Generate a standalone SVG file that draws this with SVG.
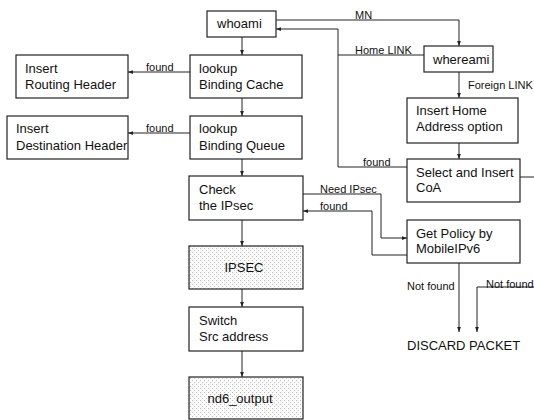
<svg xmlns="http://www.w3.org/2000/svg" width="534" height="420" viewBox="0 0 534 420">
<defs>
<marker id="ah" viewBox="0 0 8 8" refX="8" refY="4" markerWidth="5" markerHeight="5" orient="auto" markerUnits="userSpaceOnUse">
<path d="M0,1 L8,4 L0,7 z" fill="#222"/>
</marker>
<pattern id="dots" width="4" height="4" patternUnits="userSpaceOnUse">
<rect width="4" height="4" fill="#fbfbfb"/>
<rect x="0" y="0" width="1" height="1" fill="#b8b8b8"/>
<rect x="2" y="2" width="1" height="1" fill="#c8c8c8"/>
</pattern>
</defs>
<style>
.box{fill:#fff;stroke:#222;stroke-width:1.2}
.dot{fill:url(#dots);stroke:#222;stroke-width:1.2}
.t{font-family:"Liberation Sans",Arial,sans-serif;font-size:13px;fill:#111}
.l{font-family:"Liberation Sans",Arial,sans-serif;font-size:11px;fill:#111}
.c{fill:none;stroke:#222;stroke-width:1}
</style>
<rect width="534" height="420" fill="#fff"/>
<g id="connectors">
<path class="c" d="M242,37 V55" marker-end="url(#ah)"/>
<path class="c" d="M242,98 V116" marker-end="url(#ah)"/>
<path class="c" d="M242,159 V176" marker-end="url(#ah)"/>
<path class="c" d="M242,220 V246" marker-end="url(#ah)"/>
<path class="c" d="M242,289 V307" marker-end="url(#ah)"/>
<path class="c" d="M242,351 V377" marker-end="url(#ah)"/>
<path class="c" d="M190,72 H128" marker-end="url(#ah)"/>
<path class="c" d="M190,133 H128" marker-end="url(#ah)"/>
<path class="c" d="M276,20 H459 V46" marker-end="url(#ah)"/>
<path class="c" d="M407,167 H338 V29 H276" marker-end="url(#ah)"/>
<path class="c" d="M424,55 H338"/>
<path class="c" d="M459,72 V98" marker-end="url(#ah)"/>
<path class="c" d="M459,143 V159" marker-end="url(#ah)"/>
<path class="c" d="M520,177 H534"/>
<path class="c" d="M303,194 H381 V238 H407" marker-end="url(#ah)"/>
<path class="c" d="M407,255 H372 V211 H303" marker-end="url(#ah)"/>
<path class="c" d="M459,263 V332" marker-end="url(#ah)"/>
<path class="c" d="M534,287 H477 V332" marker-end="url(#ah)"/>
<text class="l" x="146" y="71">found</text>
<text class="l" x="146" y="132">found</text>
<text class="l" x="355" y="19">MN</text>
<text class="l" x="355" y="54">Home LINK</text>
<text class="l" x="468" y="89">Foreign LINK</text>
<text class="l" x="363" y="166">found</text>
<text class="l" x="320" y="193">Need IPsec</text>
<text class="l" x="320" y="210">found</text>
<text class="l" x="407" y="290">Not found</text>
<text class="l" x="486" y="288">Not found</text>
</g>
<g id="whoami"><rect class="box" x="207" y="11" width="69" height="26"/><text class="t" x="217" y="28">whoami</text></g>
<g id="lookupBC"><rect class="box" x="190" y="55" width="112" height="43"/><text class="t" x="199" y="73">lookup</text><text class="t" x="199" y="89">Binding Cache</text></g>
<g id="insertRH"><rect class="box" x="16" y="55" width="112" height="43"/><text class="t" x="25" y="73">Insert</text><text class="t" x="25" y="89">Routing Header</text></g>
<g id="lookupBQ"><rect class="box" x="190" y="116" width="112" height="43"/><text class="t" x="199" y="133">lookup</text><text class="t" x="199" y="150">Binding Queue</text></g>
<g id="insertDH"><rect class="box" x="7" y="116" width="121" height="43"/><text class="t" x="16" y="133">Insert</text><text class="t" x="16" y="150">Destination Header</text></g>
<g id="checkIPsec"><rect class="box" x="189" y="176" width="114" height="44"/><text class="t" x="199" y="194">Check</text><text class="t" x="199" y="210">the IPsec</text></g>
<g id="ipsec"><rect class="dot" x="189" y="246" width="114" height="43"/><text class="t" x="244" y="272" text-anchor="middle">IPSEC</text></g>
<g id="switch"><rect class="box" x="189" y="307" width="114" height="44"/><text class="t" x="199" y="325">Switch</text><text class="t" x="199" y="341">Src address</text></g>
<g id="nd6"><rect class="dot" x="189" y="377" width="114" height="42"/><text class="t" x="240" y="403" text-anchor="middle">nd6_output</text></g>
<g id="whereami"><rect class="box" x="424" y="46" width="69" height="26"/><text class="t" x="433" y="64">whereami</text></g>
<g id="insertHome"><rect class="box" x="407" y="98" width="111" height="45"/><text class="t" x="416" y="115">Insert Home</text><text class="t" x="416" y="131">Address option</text></g>
<g id="selectCoA"><rect class="box" x="407" y="159" width="113" height="43"/><text class="t" x="416" y="177">Select and Insert</text><text class="t" x="416" y="192">CoA</text></g>
<g id="getPolicy"><rect class="box" x="407" y="220" width="113" height="43"/><text class="t" x="416" y="238">Get Policy by</text><text class="t" x="416" y="253">MobileIPv6</text></g>
<g id="discard"><text class="t" x="407" y="350">DISCARD PACKET</text></g>
</svg>
